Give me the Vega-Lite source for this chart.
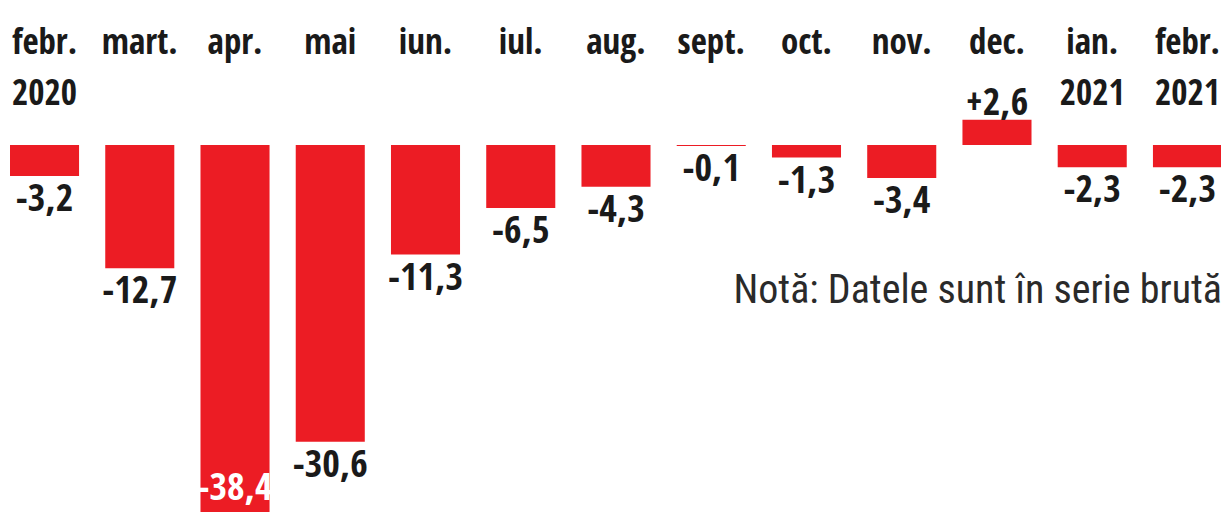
{
  "$schema": "https://vega.github.io/schema/vega-lite/v6.json",
  "width": 1221,
  "height": 512,
  "autosize": {"type": "none"},
  "padding": 0,
  "background": "white",
  "config": {
    "view": {"stroke": null},
    "locale": {"number": {"decimal": ",", "thousands": ".", "grouping": [3], "currency": ["", ""], "minus": "-"}}
  },
  "data": {
    "values": [
      {"luna": "febr. 2020", "valoare": -3.2},
      {"luna": "mart.", "valoare": -12.7},
      {"luna": "apr.", "valoare": -38.4},
      {"luna": "mai", "valoare": -30.6},
      {"luna": "iun.", "valoare": -11.3},
      {"luna": "iul.", "valoare": -6.5},
      {"luna": "aug.", "valoare": -4.3},
      {"luna": "sept.", "valoare": -0.1},
      {"luna": "oct.", "valoare": -1.3},
      {"luna": "nov.", "valoare": -3.4},
      {"luna": "dec.", "valoare": 2.6},
      {"luna": "ian. 2021", "valoare": -2.3},
      {"luna": "febr. 2021", "valoare": -2.3}
    ]
  },
  "encoding": {
    "x": {
      "field": "luna",
      "type": "nominal",
      "sort": null,
      "scale": {"range": [0, 1232], "paddingInner": 0.275, "paddingOuter": 0.105},
      "axis": {
        "orient": "top",
        "title": null,
        "domain": false,
        "ticks": false,
        "tickSize": 0,
        "grid": false,
        "labelAngle": 0,
        "offset": -25,
        "labelPadding": 0,
        "labelBaseline": "top",
        "labelFont": "Open Sans Condensed",
        "labelFontSize": 35,
        "labelFontWeight": "bold",
        "labelColor": "#1a1a1a",
        "labelLineHeight": 51,
        "labelOverlap": false,
        "labelFlush": false,
        "labelExpr": "split(datum.label, ' ')"
      }
    },
    "y": {
      "field": "valoare",
      "type": "quantitative",
      "scale": {"domain": [-37.84, 14.95], "nice": false, "zero": false},
      "axis": null
    }
  },
  "layer": [
    {
      "mark": {"type": "bar", "color": "#ec1c24"}
    },
    {
      "transform": [{"filter": "datum.valoare < 0 && datum.valoare > -35"}],
      "mark": {"type": "text", "baseline": "top", "dy": 5, "font": "Open Sans Condensed", "fontSize": 38, "fontWeight": "bold", "color": "#1a1a1a"},
      "encoding": {"text": {"field": "valoare", "type": "quantitative", "format": "+.1f"}}
    },
    {
      "transform": [{"filter": "datum.valoare > 0"}],
      "mark": {"type": "text", "baseline": "alphabetic", "dy": -5, "font": "Open Sans Condensed", "fontSize": 38, "fontWeight": "bold", "color": "#1a1a1a"},
      "encoding": {"text": {"field": "valoare", "type": "quantitative", "format": "+.1f"}}
    },
    {
      "transform": [{"filter": "datum.valoare <= -35"}],
      "mark": {"type": "text", "baseline": "alphabetic", "dy": -17, "font": "Open Sans Condensed", "fontSize": 38, "fontWeight": "bold", "color": "white"},
      "encoding": {"text": {"field": "valoare", "type": "quantitative", "format": "+.1f"}}
    },
    {
      "transform": [{"filter": "datum.luna == 'febr. 2021'"}],
      "mark": {"type": "text", "align": "right", "baseline": "alphabetic", "font": "Roboto Condensed", "fontSize": 40, "fontWeight": "normal", "color": "#2a2a2a"},
      "encoding": {
        "x": {"field": "luna", "type": "nominal", "sort": null, "bandPosition": 1},
        "y": {"datum": -16.3, "type": "quantitative"},
        "text": {"value": "Notă: Datele sunt în serie brută"}
      }
    }
  ]
}
